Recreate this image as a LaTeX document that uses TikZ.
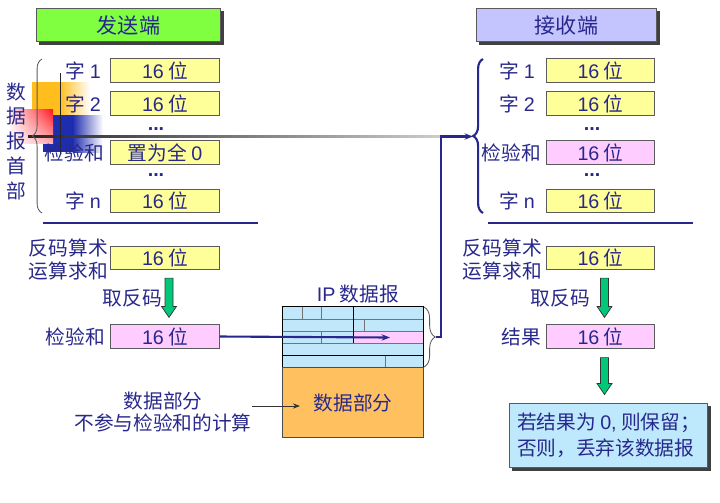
\documentclass[tikz,border=0pt]{standalone}
\usepackage{fontspec}
\setmainfont{Noto Sans CJK SC}
\newfontfamily\latin{Liberation Sans}
\usetikzlibrary{arrows.meta}
\usetikzlibrary{positioning}
\usetikzlibrary{calc}
\usetikzlibrary{shadings}
\usetikzlibrary{decorations.pathreplacing}
\usetikzlibrary{backgrounds}

\definecolor{txtblue}{RGB}{40,40,140}
\definecolor{boxgray}{RGB}{90,90,90}
\definecolor{wordyellow}{RGB}{255,255,153}
\definecolor{sumpink}{RGB}{255,204,255}
\definecolor{sendgreen}{RGB}{128,255,64}
\definecolor{recvlilac}{RGB}{196,196,255}
\definecolor{finblue}{RGB}{190,232,252}
\definecolor{gridblue}{RGB}{192,232,250}
\definecolor{dataorange}{RGB}{255,192,96}
\definecolor{arrowgreen}{RGB}{0,200,120}
\definecolor{decororange}{RGB}{255,190,30}
\definecolor{decorred}{RGB}{255,20,30}
\definecolor{decorblue}{RGB}{30,45,175}

\newcommand{\sixteen}{{\latin 16} 位}
\newcommand{\vdotsrow}{{\latin\bfseries ...}}
% fat green arrow pointing down, from #1 (top of shaft) to #2 (tip)
\newcommand{\fatdown}[2]{%
    \draw[fatarrow] ($(#1)+(-4,0)$) -- ($(#1)+(4,0)$) -- ($(#2)+(4,-11)$) -- ($(#2)+(7.5,-11)$)
        -- (#2) -- ($(#2)+(-7.5,-11)$) -- ($(#2)+(-4,-11)$) -- cycle;}

\tikzset{
    wordbox/.style={draw=boxgray, line width=0.7pt, fill=wordyellow, minimum width=2.7cm,
        minimum height=0.58cm, inner sep=0pt, text=txtblue},
    sumbox/.style={wordbox, fill=sumpink},
    lbl/.style={anchor=east, inner sep=0pt, text=txtblue},
    dotrow/.style={inner sep=0pt, text=txtblue},
    headbox/.style={draw=boxgray, line width=0.7pt, minimum height=0.825cm, inner sep=0pt, text=txtblue,
        font=\fontsize{15}{17}\selectfont},
    fatarrow/.style={draw=black!80, fill=arrowgreen, line width=0.5pt, line join=miter},
    conn/.style={txtblue, line width=1.5pt},
    gridline/.style={black!55, line width=0.6pt},
}

\begin{document}
\begin{tikzpicture}[x=0.025cm, y=-0.025cm, font=\fontsize{14}{17}\selectfont]
    \useasboundingbox (0,0) rectangle (720,502);

    % decoration on the left
    \fill[decororange] (32,82) rectangle (60,115);
    \shade[left color=decororange, right color=white] (59.5,82) rectangle (90,115);
    \fill[decorblue] (43,115) rectangle (73,152);
    \shade[left color=decorblue, right color=white] (72.5,115) rectangle (103,152);
    \shade[upper left=decorred!10, upper right=decorred, lower left=white, lower right=decorred!35]
        (10,109) rectangle (53,143);
    \shade[left color=black!85, right color=black!20] (28,135.8) rectangle (441,137.2);
    \draw[black!85, line width=1.2pt] (60.5,73) -- (60.5,155);

    % headers
    \node[headbox, fill=sendgreen, minimum width=4.575cm] (hs) at (128.5,25) {发送端};
    \node[headbox, fill=recvlilac, minimum width=4.475cm] (hr) at (566.5,25) {接收端};

    % sender header words
    \node[wordbox] (s1) at (165,70.5) {\sixteen};
    \node[wordbox] (s2) at (165,103.5) {\sixteen};
    \node[wordbox] (s3) at (165,152.5) {置为全 {\latin 0}};
    \node[wordbox] (sn) at (165,201) {\sixteen};
    \node[dotrow] (sd1) at (156,129) {\vdotsrow};
    \node[dotrow] (sd2) at (156,175) {\vdotsrow};
    \node[lbl] (ls1) at (101,70.5) {字 {\latin 1}};
    \node[lbl] (ls2) at (101,103.5) {字 {\latin 2}};
    \node[lbl] (ls3) at (104,152.5) {检验和};
    \node[lbl] (lsn) at (101,201) {字 {\latin n}};
    \node[align=center, inner sep=0pt, text=txtblue, font=\fontsize{14}{17.6}\selectfont] (hdr) at (16,141)
        {数\\据\\报\\首\\部};
    \draw[boxgray, line width=0.6pt, decorate, decoration={brace, amplitude=7pt}] (42,213) -- (42,59);
    \draw[conn] (43,223) -- (258,223);

    % sender sum
    \node[wordbox] (ssum) at (165,258) {\sixteen};
    \node[sumbox] (sck) at (165,336.5) {\sixteen};
    \node[lbl, align=right] (lssum) at (108,259.5) {反码算术\\运算求和};
    \node[lbl] (lsck) at (105,337) {检验和};
    \node[lbl] (lsinv) at (162,298) {取反码};
    \coordinate (sa1) at ([shift={(4,8)}]ssum.south);
    \coordinate (sa2) at ([shift={(4,-7)}]sck.north);
    \fatdown{sa1}{sa2}

    % receiver header words
    \node[wordbox] (r1) at (600.5,70.5) {\sixteen};
    \node[wordbox] (r2) at (600.5,103.5) {\sixteen};
    \node[sumbox] (r3) at (600.5,152.5) {\sixteen};
    \node[wordbox] (rn) at (600.5,201) {\sixteen};
    \node[dotrow] (rd1) at (592,129) {\vdotsrow};
    \node[dotrow] (rd2) at (592,175) {\vdotsrow};
    \node[lbl] (lr1) at (535,70.5) {字 {\latin 1}};
    \node[lbl] (lr2) at (535,103.5) {字 {\latin 2}};
    \node[lbl] (lr3) at (541,152.5) {检验和};
    \node[lbl] (lrn) at (535,201) {字 {\latin n}};
    \draw[conn, decorate, decoration={brace, amplitude=7pt}] (483,213) -- (483,59);
    \coordinate (rvtip) at (473,136.5);
    \draw[conn] (488,223) -- (693,223);

    % receiver sum
    \node[wordbox] (rsum) at (600.5,258) {\sixteen};
    \node[sumbox] (rres) at (600.5,336.5) {\sixteen};
    \node[lbl, align=right] (lrsum) at (542,259.5) {反码算术\\运算求和};
    \node[lbl] (lrres) at (541,337) {结果};
    \node[lbl] (lrinv) at (590,298) {取反码};
    \node[draw=boxgray, line width=0.7pt, fill=finblue, minimum width=4.925cm, minimum height=1.6cm,
        align=left, text=txtblue, font=\fontsize{14}{18.5}\selectfont] (fin) at (608.5,435)
        {若结果为 {\latin 0,} 则保留；\\否则，丢弃该数据报};
    \coordinate (ra1) at ([shift={(4,8)}]rsum.south);
    \coordinate (ra2) at ([shift={(4,-7)}]rres.north);
    \fatdown{ra1}{ra2}
    \coordinate (fa1) at ([shift={(4,9)}]rres.south);
    \coordinate (fa2) at ([shift={(-4,-8)}]fin.north);
    \fatdown{fa1}{fa2}

    \begin{scope}[on background layer]
        \fill[black!75] ([shift={(3,3)}]hs.north west) rectangle ([shift={(3,3)}]hs.south east);
        \fill[black!75] ([shift={(3,3)}]hr.north west) rectangle ([shift={(3,3)}]hr.south east);
        \fill[black!75] ([shift={(3,3)}]fin.north west) rectangle ([shift={(3,3)}]fin.south east);
    \end{scope}

    % IP datagram
    \node[fill=gridblue, minimum width=3.5cm, minimum height=1.5cm, inner sep=0pt] (dg) at (353,337) {};
    \fill[sumpink] (353,331) rectangle (423,343);
    \foreach \y in {319,331,343}
        \draw[gridline] (283,\y) -- (423,\y);
    \draw[gridline] (302.7,307) -- (302.7,319);
    \draw[gridline] (321.7,307) -- (321.7,319);
    \draw[gridline] (364,319) -- (364,331);
    \draw[gridline] (321.7,331) -- (321.7,343);
    \draw[gridline] (385,355) -- (385,367);
    \draw[black, line width=0.7pt] (353,307) -- (353,343);
    \draw[black, line width=0.7pt] (283,355) -- (423,355);
    \draw[black, line width=0.7pt] (dg.north west) rectangle (dg.south east);
    \node[draw=black!70, line width=0.7pt, fill=dataorange, minimum width=3.5cm, minimum height=1.75cm,
        inner sep=0pt, text=txtblue, below=0pt of dg] (dp) {数据部分};
    \node[inner sep=0pt, text=txtblue] (iplbl) at (358,294) {{\latin IP} 数据报};
    \draw[boxgray, line width=0.6pt, decorate, decoration={brace, amplitude=8pt}] (424,307) -- (424,367);
    \coordinate (dgtip) at (436,337);
    \coordinate (ipin) at (390,337.5);

    \node[align=center, inner sep=0pt, text=txtblue, font=\fontsize{14}{15}\selectfont] (note) at (163,412)
        {数据部分\\不参与检验和的计算};
    \coordinate (dpin) at (300,406);

    % connectors
    \draw[conn, -{Stealth[length=6pt]}] (sck.east) -- (ipin);
    \draw[conn, -{Stealth[length=6pt]}] (dgtip) -- ++(5,0) |- (rvtip);
    \draw[black!80, line width=0.6pt, -{Stealth[length=5pt]}] (note.east |- dpin) -- (dpin);
\end{tikzpicture}
\end{document}
